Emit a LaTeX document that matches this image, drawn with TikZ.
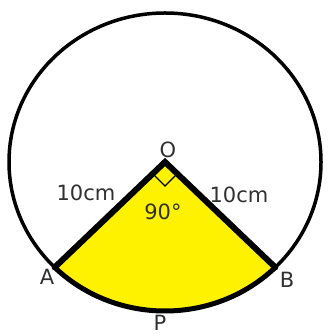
\documentclass[tikz,border=0pt]{standalone}
\usepackage{fontspec}
\setmainfont{DejaVu Sans}
\usetikzlibrary{calc}
\definecolor{txt}{HTML}{303030}
\definecolor{sec}{HTML}{FFF200}
\begin{document}
\begin{tikzpicture}[x=1pt,y=1pt,
  lbl/.style={text=txt, font=\fontsize{21}{21}\selectfont, inner sep=0pt}]
\useasboundingbox (0,0) rectangle (327,336);
\coordinate (O) at (165,174);
\coordinate (A) at ($(O)+(225:156 and 149)$);
\coordinate (B) at ($(O)+(315:156 and 149)$);
\fill[sec] (O) -- (A) arc[start angle=225,end angle=315,x radius=156,y radius=149] -- cycle;
\draw[line width=3.5] (O) ellipse[x radius=156,y radius=149];
\draw[line width=5] (A) arc[start angle=225,end angle=315,x radius=156,y radius=149];
\draw[line width=6,line join=miter,line cap=round] (A) -- (O) -- (B);
\draw[line width=1.2] ($(O)+(-135:17)$) -- ($(O)+(-90:24)$) -- ($(O)+(-45:17)$);
\node[lbl] (lO) at (168,186) {O};
\node[lbl] (lOA) at (86,143) {10cm};
\node[lbl] (lOB) at (239,141) {10cm};
\node[lbl] (lang) at (163,124) {90°};
\node[lbl] (lA) at (47,59) {A};
\node[lbl] (lB) at (287,56) {B};
\node[lbl] (lP) at (160,13.5) {P};
\end{tikzpicture}
\end{document}
